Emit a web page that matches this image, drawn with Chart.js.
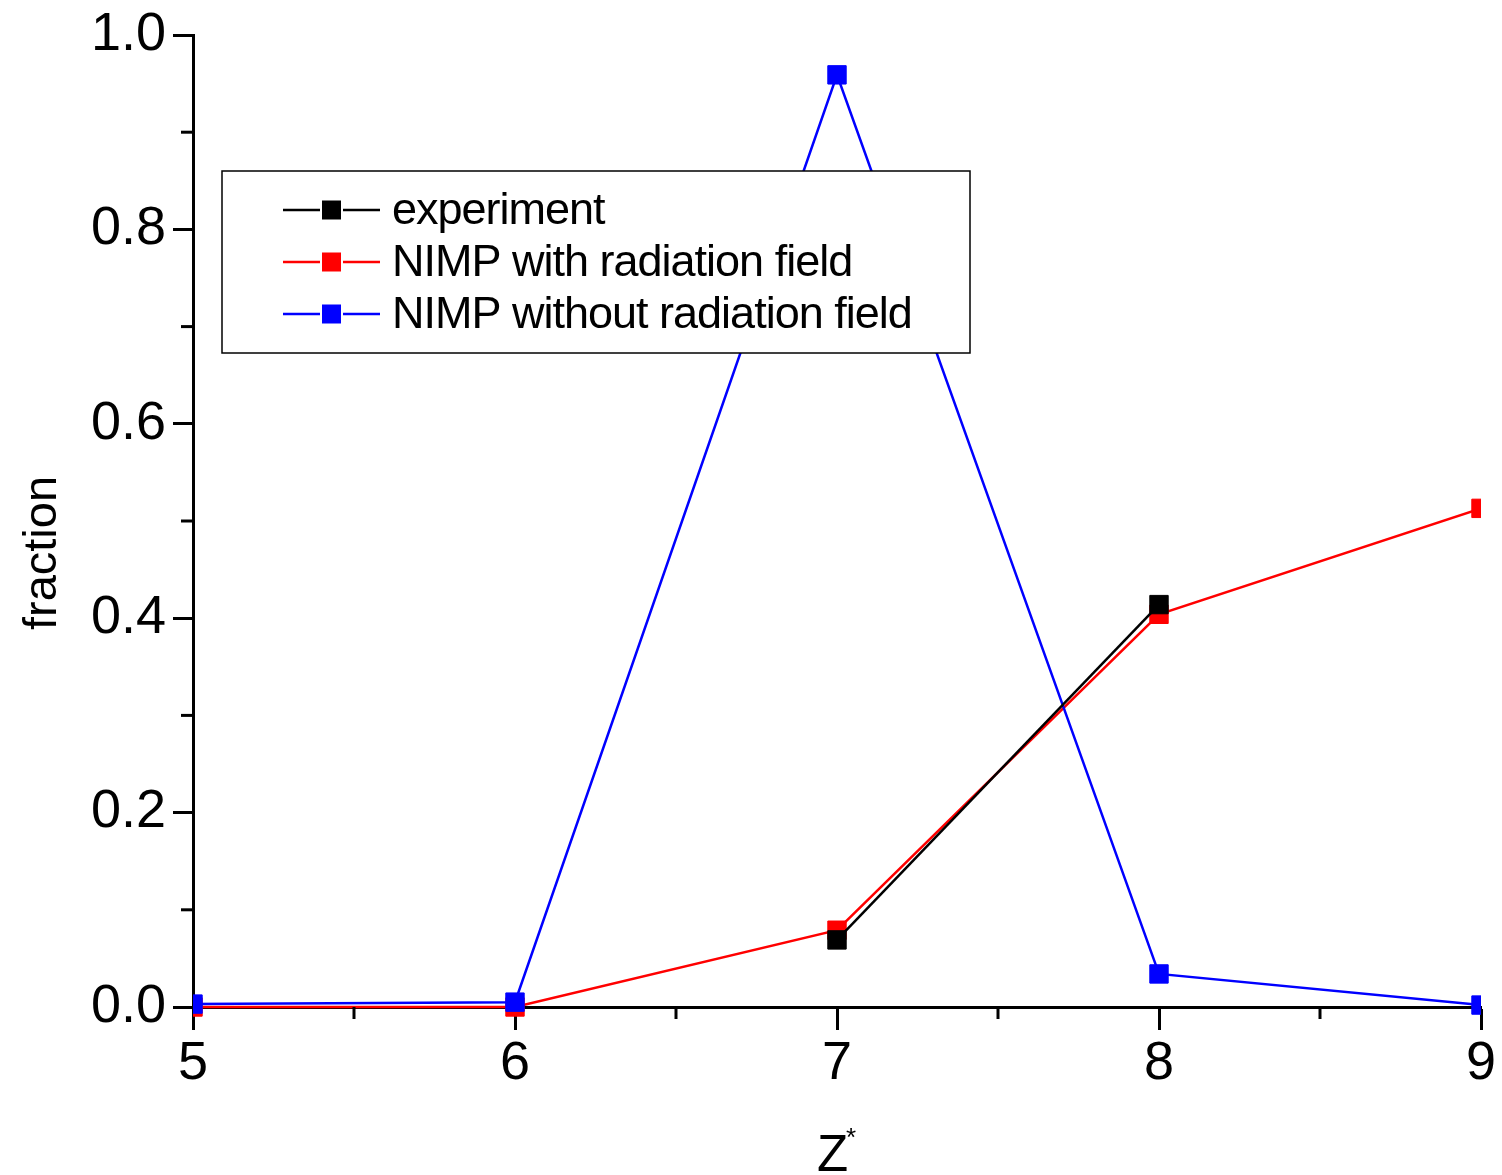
<!DOCTYPE html>
<html>
<head>
<meta charset="utf-8">
<script src="https://cdn.jsdelivr.net/npm/chart.js@4/dist/chart.umd.min.js"></script>
<style>
  html, body { margin: 0; padding: 0; background: #fff; }
  #graph { display: block; }
</style>
</head>
<body>
<canvas id="graph" width="1502" height="1175"></canvas>
<script>
// datos de cada serie (Z* contra fracción)
const zValues = [5, 6, 7, 8, 9];
const experiment = [null, null, 0.069, 0.414, null];
const nimpWithField = [0, 0, 0.079, 0.404, 0.513];
const nimpWithoutField = [0.003, 0.005, 0.959, 0.034, 0.002];

const seriesNames = ['experiment', 'NIMP with radiation field', 'NIMP without radiation field'];
const seriesColors = ['#000000', '#ff0000', '#0000ff'];

const xMinorTicks = [5.5, 6.5, 7.5, 8.5];
const yMinorTicks = [0.1, 0.3, 0.5, 0.7, 0.9];

const FONT = "'Liberation Sans', Arial, sans-serif";

// arma los puntos {x, y} para el eje lineal
const toPoints = (values) => zValues.map((z, i) => ({ x: z, y: values[i] }));

const makeDataset = (idx, values, order) => ({
    label: seriesNames[idx],
    data: toPoints(values),
    borderColor: seriesColors[idx],
    backgroundColor: seriesColors[idx],
    borderWidth: 2.5,
    pointStyle: 'rect',
    pointRadius: 13,
    pointBorderWidth: 1,
    pointBorderColor: seriesColors[idx],
    pointBackgroundColor: seriesColors[idx],
    spanGaps: false,
    tension: 0,
    order: order,
    clip: { left: 0, right: 0, top: false, bottom: false }
});

// ticks menores, títulos de ejes y leyenda dibujados a mano
const decorations = {
    id: 'decorations',
    afterDraw(chart) {
        const c = chart.ctx;
        const xs = chart.scales.x;
        const ys = chart.scales.y;
        const area = chart.chartArea;

        c.save();
        c.strokeStyle = '#000';
        c.lineWidth = 3;
        xMinorTicks.forEach(v => {
            const px = xs.getPixelForValue(v);
            c.beginPath();
            c.moveTo(px, area.bottom);
            c.lineTo(px, area.bottom + 12);
            c.stroke();
        });
        yMinorTicks.forEach(v => {
            const py = ys.getPixelForValue(v);
            c.beginPath();
            c.moveTo(area.left, py);
            c.lineTo(area.left - 12, py);
            c.stroke();
        });

        // título eje y
        c.fillStyle = '#000';
        c.font = `47px ${FONT}`;
        c.translate(56, 553);
        c.rotate(-Math.PI / 2);
        c.textAlign = 'center';
        c.textBaseline = 'alphabetic';
        c.fillText('fraction', 0, 0);
        c.restore();

        // título eje x: Z con asterisco
        c.save();
        c.fillStyle = '#000';
        c.textBaseline = 'alphabetic';
        c.font = `51px ${FONT}`;
        c.textAlign = 'left';
        c.fillText('Z', 817, 1171);
        c.font = `26px ${FONT}`;
        c.fillText('*', 846, 1146);
        c.restore();

        // leyenda
        c.save();
        c.fillStyle = '#fff';
        c.fillRect(222, 171, 748, 182);
        c.strokeStyle = '#000';
        c.lineWidth = 1.5;
        c.strokeRect(222, 171, 748, 182);
        const rowsY = [210, 262, 314];
        seriesNames.forEach((name, i) => {
            const y = rowsY[i];
            c.strokeStyle = seriesColors[i];
            c.fillStyle = seriesColors[i];
            c.lineWidth = 2.5;
            c.beginPath();
            c.moveTo(283, y); c.lineTo(320, y);
            c.moveTo(343, y); c.lineTo(380, y);
            c.stroke();
            c.fillRect(322, y - 9.5, 19, 19);
            c.fillStyle = '#000';
            c.font = `45px ${FONT}`;
            c.letterSpacing = '-1px';
            c.textAlign = 'left';
            c.textBaseline = 'middle';
            c.fillText(name, 392, y + 2);
        });
        c.restore();
    }
};

const chart = new Chart(document.getElementById('graph'), {
    type: 'line',
    data: {
        datasets: [
            makeDataset(0, experiment, 0),
            makeDataset(2, nimpWithoutField, 1),
            makeDataset(1, nimpWithField, 2)
        ]
    },
    options: {
        responsive: false,
        animation: false,
        devicePixelRatio: 1,
        layout: { padding: { left: 0, top: 35, right: 21, bottom: 0 } },
        plugins: {
            legend: { display: false },
            tooltip: { enabled: false }
        },
        scales: {
            x: {
                type: 'linear',
                min: 5,
                max: 9,
                afterFit: (scale) => { scale.height = 168; },
                ticks: {
                    stepSize: 1,
                    color: '#000',
                    font: { family: FONT, size: 54 },
                    padding: 2,
                    maxRotation: 0
                },
                grid: {
                    drawOnChartArea: false,
                    drawTicks: true,
                    tickLength: 23,
                    tickWidth: 3,
                    tickColor: '#000'
                },
                border: { color: '#000', width: 3 }
            },
            y: {
                type: 'linear',
                min: 0,
                max: 1,
                afterFit: (scale) => { scale.width = 193; },
                ticks: {
                    stepSize: 0.2,
                    color: '#000',
                    font: { family: FONT, size: 54, lineHeight: 1 },
                    padding: 7,
                    callback: (v) => v.toFixed(1)
                },
                grid: {
                    drawOnChartArea: false,
                    drawTicks: true,
                    tickLength: 20,
                    tickWidth: 3,
                    tickColor: '#000'
                },
                border: { color: '#000', width: 3 }
            }
        }
    },
    plugins: [decorations]
});
</script>
</body>
</html>
